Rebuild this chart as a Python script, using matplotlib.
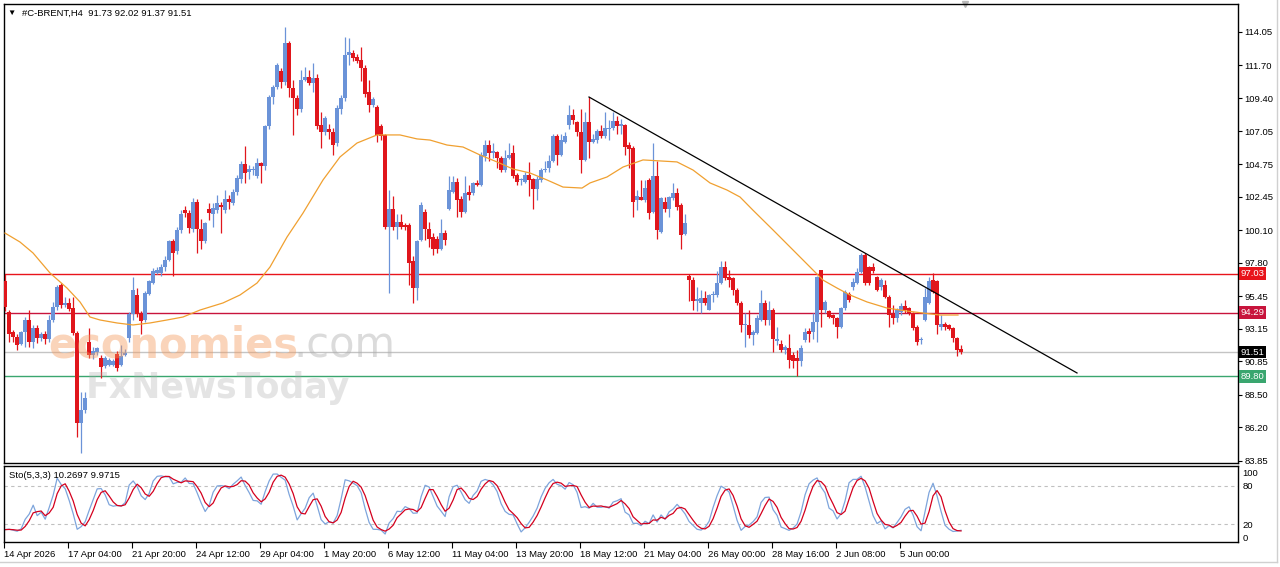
import numpy as np
import pandas as pd
import matplotlib
matplotlib.use("Agg")
import matplotlib.pyplot as plt
from matplotlib.transforms import blended_transform_factory
from matplotlib.lines import Line2D

plt.rcParams['font.family'] = ['Liberation Sans', 'DejaVu Sans']

# H4 candles (oldest first)
opens = [
    96.5, 94.3, 92.9, 92.6, 92.1, 92.95, 93.8, 92.2, 93.2, 92.5,
    92.75, 92.4, 93.8, 94.7, 96.2, 94.85, 95.0, 94.6, 92.85, 86.5,
    87.4, 92.2, 91.3, 91.5, 91.1, 90.5, 90.6, 90.6, 91.4, 90.6,
    91.3, 92.5, 94.2, 95.5, 94.2, 93.77, 95.6, 96.4, 97.1, 97.1,
    97.5, 98.0, 99.35, 98.6, 100.1, 101.5, 101.3, 100.2, 102.1, 100.2,
    99.3, 101.6, 101.25, 101.5, 101.9, 101.5, 102.3, 102.0, 102.75, 103.7,
    104.76, 104.2, 104.3, 103.9, 104.8, 104.6, 107.4, 109.5, 110.2, 111.3,
    110.5, 113.25, 110.1, 109.4, 108.6, 110.7, 110.9, 110.45, 110.8, 107.5,
    107.0, 107.2, 107.0, 106.2, 108.6, 109.4, 112.4, 112.6, 112.3, 112.1,
    111.5, 109.8, 108.9, 108.8, 107.4, 106.8, 100.35, 101.6, 100.35, 100.65,
    100.45, 100.45, 97.9, 96.0, 99.4, 101.4, 100.2, 99.6, 99.5, 98.8,
    99.9, 101.6, 102.8, 103.5, 102.3, 101.4, 102.75, 102.7, 103.4, 103.3,
    105.3, 106.1, 105.5, 105.6, 105.2, 104.3, 105.2, 105.5, 104.0, 103.6,
    103.5, 104.0, 103.7, 103.0, 103.6, 104.3, 104.45, 105.0, 106.7, 105.4,
    106.3, 107.5, 108.2, 107.7, 107.0, 105.05, 107.7, 106.3, 106.45, 107.05,
    106.75, 107.25, 107.3, 107.75, 107.45, 107.5, 106.1, 105.85, 102.2, 102.45,
    102.2, 103.6, 101.4, 103.9, 100.0, 102.1, 101.6, 102.35, 102.7, 101.9,
    99.8, 96.9, 96.6, 95.1, 95.0, 95.3, 94.5, 95.5, 95.5, 96.4,
    97.5, 96.8, 96.7, 95.9, 94.95, 93.4, 93.45, 92.7, 92.85, 93.8,
    94.95, 93.8, 94.5, 92.3, 92.1, 91.65, 91.8, 91.3, 91.1, 90.85,
    92.35, 93.0, 92.95, 93.65, 97.3, 94.5, 94.4, 94.1, 93.9, 93.3,
    94.6, 95.6, 96.1, 96.35, 97.17, 98.35, 97.5, 97.5, 96.8, 96.1,
    96.2, 95.4, 94.2, 93.9, 94.35, 94.75, 94.6, 94.25, 93.3, 92.35,
    93.8, 94.95, 96.6, 96.5, 93.3, 93.5, 93.4, 93.2, 92.5, 91.73,
]
highs = [
    97.0, 94.5, 93.1, 92.8, 93.0, 94.0, 94.5, 93.4, 93.4, 92.9,
    93.0, 94.1, 95.05, 96.2, 96.4, 95.4, 95.3, 95.4, 93.0, 88.7,
    88.7, 93.2, 91.9, 91.9, 91.3, 91.2, 91.1, 91.0, 91.6, 92.0,
    91.7, 94.3, 96.8, 96.0, 94.4, 95.8, 96.6, 97.4, 97.5, 97.7,
    98.3, 99.4, 99.5, 100.3, 101.5, 101.8, 101.5, 102.35, 102.3, 100.9,
    100.7, 102.0, 102.0, 102.6, 102.1, 102.9, 102.6, 103.0, 104.0, 105.0,
    106.0, 104.7, 104.6, 105.2, 104.9, 107.5, 109.6, 110.3, 111.85, 111.5,
    114.4, 113.4, 110.7, 109.6, 111.4, 111.6, 111.4, 111.9, 111.1, 108.4,
    108.1, 107.6, 107.3, 108.9, 109.6, 113.7, 113.6, 112.8, 112.5, 113.0,
    111.7, 110.7, 109.5, 108.9, 107.6, 106.9, 102.9, 102.5, 101.2, 101.2,
    100.6, 100.6, 98.3, 99.4, 102.1, 101.6, 100.7, 99.9, 99.7, 100.9,
    100.1, 103.9, 103.9, 103.75, 102.5, 103.9, 103.3, 103.5, 103.6, 105.6,
    106.45, 106.45, 106.2, 105.7, 105.3, 105.75, 106.2, 106.1, 104.1, 103.8,
    104.2, 104.9, 103.8, 103.9, 104.45, 105.0, 105.4, 106.9, 106.9, 106.9,
    107.0, 108.9, 108.6, 107.8, 108.6, 108.4, 109.5, 106.9, 107.2, 107.5,
    108.4, 107.85, 108.4, 108.1, 107.95, 107.6, 106.3, 106.0, 102.9, 103.6,
    103.6, 103.75, 106.2, 105.0, 102.4, 102.45, 102.5, 103.4, 103.05, 102.0,
    101.2, 97.0, 96.8, 96.1, 95.9, 95.8, 95.6, 95.8, 97.2, 97.9,
    97.9, 97.3, 96.8, 96.0, 95.1, 94.25, 94.5, 93.1, 94.1, 95.9,
    95.2, 95.1, 94.6, 93.3, 92.35, 92.0, 92.8, 91.5, 91.65, 92.0,
    93.2, 93.2, 94.25, 96.9, 97.3, 95.2, 94.5, 94.2, 94.0, 94.7,
    95.9, 95.75, 96.7, 97.4, 98.5, 98.5, 97.6, 97.76, 96.9, 96.7,
    96.6, 95.5, 94.8, 94.6, 94.95, 95.2, 94.7, 94.35, 93.4, 92.6,
    96.0, 96.8, 97.1, 96.6, 94.1, 93.65, 93.5, 93.3, 92.6, 92.02,
]
lows = [
    94.4, 92.2, 92.2, 91.65, 92.0, 91.9, 91.9, 91.8, 92.15, 92.3,
    92.1, 92.2, 93.6, 94.5, 94.6, 94.7, 94.4, 92.7, 85.5, 84.4,
    87.2, 91.1, 91.0, 91.3, 89.7, 90.4, 90.5, 90.5, 90.2, 90.5,
    91.2, 92.2, 93.8, 94.0, 92.8, 93.6, 95.5, 96.3, 97.0, 96.9,
    97.2, 97.9, 96.9, 98.4, 99.9, 101.0, 99.9, 100.0, 98.5, 98.8,
    99.2, 100.8, 100.35, 101.3, 99.9, 101.3, 101.6, 101.9, 102.6, 103.4,
    103.4, 103.7, 104.0, 103.8, 103.4, 104.3, 107.2, 109.0, 110.0, 110.1,
    110.3, 109.5, 106.8, 108.2, 108.4, 110.6, 110.3, 109.8, 107.2, 105.9,
    106.8, 106.5, 105.4, 106.0, 108.3, 109.2, 111.7, 112.0, 111.85, 110.6,
    109.5, 108.4, 108.8, 106.3, 106.45, 100.2, 95.65, 100.1, 99.5, 100.2,
    100.1, 96.2, 94.95, 95.2, 99.3, 99.4, 98.9, 98.35, 98.5, 98.7,
    99.05, 101.5, 102.7, 101.05, 101.05, 101.3, 102.2, 102.6, 103.2, 103.2,
    105.0, 105.0, 105.2, 104.45, 104.2, 104.2, 105.1, 103.8, 103.3, 103.3,
    103.4, 102.5, 101.6, 102.2, 103.5, 104.2, 104.2, 104.9, 104.7, 105.3,
    106.2, 107.2, 107.6, 106.7, 104.1, 105.0, 105.2, 106.2, 106.2, 106.6,
    106.6, 106.45, 107.15, 106.9, 106.9, 105.4, 104.45, 101.05, 101.5, 102.2,
    102.1, 100.9, 101.3, 99.5, 99.9, 101.4, 101.05, 102.2, 101.5, 98.8,
    99.75, 95.1, 94.5, 94.4, 94.25, 94.8, 94.45, 95.05, 95.4, 96.3,
    96.6, 96.1, 95.5, 94.8, 92.95, 91.9, 92.5, 92.0, 92.8, 93.7,
    93.4, 93.4, 91.5, 92.0, 91.55, 91.4, 90.4, 90.4, 89.8, 90.5,
    92.2, 92.25, 92.4, 92.25, 93.3, 94.25, 93.9, 93.5, 92.5, 93.2,
    94.5, 95.05, 95.9, 96.3, 97.1, 96.2, 96.2, 97.06, 95.8, 95.9,
    95.3, 93.3, 93.5, 93.65, 94.1, 94.25, 94.1, 93.07, 92.0, 92.1,
    93.7, 94.9, 95.65, 92.8, 93.07, 93.07, 93.07, 92.25, 91.2, 91.37,
]
closes = [
    94.7, 92.8, 92.6, 92.0, 92.9, 93.8, 92.2, 93.2, 92.5, 92.75,
    92.4, 93.8, 94.7, 96.1, 94.8, 95.0, 94.55, 92.85, 86.5, 87.4,
    88.25, 91.3, 91.6, 91.8, 90.45, 91.1, 90.95, 90.85, 90.4, 91.2,
    91.45, 94.2, 95.9, 94.2, 93.7, 95.65, 96.5, 97.2, 97.3, 97.5,
    98.0, 99.3, 98.46, 100.1, 101.2, 101.3, 100.25, 102.1, 100.2, 99.3,
    100.6, 101.3, 101.65, 101.98, 101.7, 102.3, 102.1, 102.8, 103.75, 104.76,
    104.1, 104.4, 104.4, 104.8, 104.6, 107.4, 109.5, 110.2, 111.7, 110.55,
    113.25, 110.1, 109.4, 108.6, 110.7, 110.9, 110.45, 110.8, 107.4, 107.0,
    108.0, 107.0, 106.1, 108.7, 109.4, 112.4, 112.65, 112.2, 112.0, 111.5,
    109.7, 108.9, 109.3, 106.8, 106.7, 100.35, 101.6, 100.35, 100.7, 100.35,
    100.35, 97.8, 96.0, 99.35, 101.9, 100.2, 99.5, 98.8, 98.8, 99.9,
    99.4, 102.9, 103.5, 102.2, 101.4, 102.7, 102.6, 103.4, 103.3, 105.4,
    106.1, 105.5, 105.65, 105.2, 104.3, 105.2, 105.4, 103.9, 103.5, 103.65,
    104.0, 103.6, 103.0, 103.7, 104.3, 104.4, 105.0, 106.7, 105.4, 106.45,
    106.7, 108.2, 107.85, 107.0, 105.05, 107.7, 106.3, 106.5, 107.05, 106.75,
    107.3, 107.3, 107.75, 107.4, 107.6, 105.98, 105.8, 102.1, 102.5, 102.2,
    103.05, 101.3, 103.9, 100.1, 102.35, 101.6, 102.45, 102.7, 101.75, 99.76,
    100.58, 96.6, 95.1, 95.25, 95.3, 94.95, 95.5, 95.6, 96.4, 97.5,
    96.7, 96.6, 95.9, 94.95, 93.4, 93.5, 92.7, 92.95, 93.9, 94.95,
    93.8, 94.5, 92.4, 92.4, 91.65, 91.9, 90.95, 90.85, 90.85, 91.8,
    92.95, 92.8, 93.65, 96.8, 94.5, 95.05, 94.0, 93.9, 93.3, 94.6,
    95.75, 95.2, 96.45, 97.17, 98.35, 96.35, 96.35, 97.25, 95.9, 96.6,
    95.4, 94.1, 93.9, 94.5, 94.75, 94.5, 94.25, 93.2, 92.25, 92.45,
    95.4, 96.5, 95.77, 93.4, 93.5, 93.3, 93.17, 92.5, 91.66, 91.51,
]

# moving average (orange), read at bar positions
ma_idx = [0, 3.75, 7, 11.25, 15.5, 18.75, 21.25, 23.75, 28, 32, 36.25, 40.5,
          44.5, 48.75, 54.5, 58.75, 63, 66.25, 70.5, 74.5, 79.5, 83.75, 88,
          93, 98.75, 103, 106.25, 110.5, 114.5, 118.75, 123, 127, 131.25,
          135.5, 139.5, 144.25, 146.25, 150.5, 154.5, 159.5, 163.75, 168,
          172, 176.25, 180.5, 183.75, 187, 192, 197, 201.25, 204.5, 208,
          211.25, 215.5, 220.5, 225.5, 229.5, 233.75, 238.25]
ma_val = [99.89, 99.26, 98.49, 97.08, 96.02, 95.04, 93.98, 93.77, 93.56,
          93.42, 93.56, 93.77, 93.98, 94.47, 94.97, 95.53, 96.37, 97.5,
          99.61, 101.3, 103.63, 105.25, 106.23, 106.8, 106.8, 106.52,
          106.44, 106.09, 105.95, 105.39, 104.9, 104.4, 104.12, 103.63,
          103.13, 103.06, 103.42, 103.84, 104.54, 105.04, 104.97, 104.9,
          104.33, 103.42, 102.92, 102.43, 101.5, 100.11, 98.7, 97.5, 96.58,
          96.02, 95.53, 95.04, 94.61, 94.4, 94.26, 94.12, 94.12]

trend_idx = [146, 268]
trend_val = [109.47, 90.04]

levels = [97.03, 94.29, 89.80]
level_colors = ['#e8141b', '#c8143c', '#3aa66f']
last_price = 91.51

price_ticks = [114.05, 111.70, 109.40, 107.05, 104.75, 102.45, 100.10,
               97.80, 95.45, 93.15, 90.85, 88.50, 86.20, 83.85]
date_pos = [0, 16, 32, 48, 64, 80, 96, 112, 128, 144, 160, 176, 192, 208, 224]
date_labels = ['14 Apr 2026', '17 Apr 04:00', '21 Apr 20:00', '24 Apr 12:00',
               '29 Apr 04:00', '1 May 20:00', '6 May 12:00', '11 May 04:00',
               '13 May 20:00', '18 May 12:00', '21 May 04:00', '26 May 00:00',
               '28 May 16:00', '2 Jun 08:00', '5 Jun 00:00']

BLUE = '#6b93d8'
RED = '#e0161c'
FS = 6.8

o = np.array(opens)
h = np.array(highs)
l = np.array(lows)
c = np.array(closes)
idx = np.arange(len(c))

# Sto(5,3,3)
hh = pd.Series(h).rolling(5, min_periods=1).max()
ll = pd.Series(l).rolling(5, min_periods=1).min()
num = (pd.Series(c) - ll).rolling(3, min_periods=1).sum()
den = (hh - ll).rolling(3, min_periods=1).sum()
sto_k = 100 * num / den
sto_d = sto_k.rolling(3, min_periods=1).mean()

W, H = 1280, 567
fig = plt.figure(figsize=(W / 100, H / 100), dpi=100)


def px_axes(x0, y0, x1, y1):
    return fig.add_axes([x0 / W, 1 - y1 / H, (x1 - x0) / W, (y1 - y0) / H])


ax = px_axes(4, 4, 1238, 463)
ax2 = px_axes(4, 466, 1238, 542)

# candles
col = np.where(c >= o, BLUE, RED)
ax.vlines(idx, np.minimum(l, np.minimum(o, c)), np.maximum(h, np.maximum(o, c)),
          colors=col, lw=0.9, zorder=3)
ax.bar(idx, np.maximum(np.abs(c - o), 0.07), bottom=np.minimum(o, c),
       width=0.8, color=col, lw=0, zorder=3, antialiased=False)

for lvl, lc in zip(levels, level_colors):
    ax.axhline(lvl, color=lc, lw=1, zorder=2)
ax.axhline(last_price, color='#c4c4c4', lw=1, zorder=2)
ax.plot(ma_idx, ma_val, color='#f0a030', lw=0.9, zorder=4)
ax.plot(trend_idx, trend_val, color='black', lw=0.9, zorder=4)

ax.set_xlim(-0.25, 308.25)
ax.set_ylim(83.70, 116.02)
ax.set_xticks([])
ax.yaxis.tick_right()
ax.set_yticks(price_ticks)
ax.set_yticklabels([f'{t:.2f}' for t in price_ticks])
ax.tick_params(axis='y', labelsize=FS, length=3, width=0.8, pad=1.5)

tr = blended_transform_factory(ax.transAxes, ax.transData)
for lvl, lc in zip(levels + [last_price], level_colors + ['black']):
    ax.text(1.0018, lvl, f'{lvl:.2f}', transform=tr, color='white', fontsize=FS,
            va='center', ha='left', zorder=6,
            bbox=dict(boxstyle='square,pad=0.18', fc=lc, ec='none'))

# shift marker at the top
ax.plot([240], [116.02], marker='v', color='#b8b8b8', ms=5, clip_on=False)

# stochastic
ax2.axhline(80, color='#c0c0c0', lw=0.8, ls=(0, (3, 3)))
ax2.axhline(20, color='#c0c0c0', lw=0.8, ls=(0, (3, 3)))
ax2.plot(idx, sto_k, color='#7ea5dc', lw=0.9)
ax2.plot(idx, sto_d, color='#d4001e', lw=0.9)
ax2.set_xlim(-0.25, 308.25)
ax2.set_ylim(-7.8, 110.9)
ax2.yaxis.tick_right()
ax2.set_yticks([0, 20, 80, 100])
ax2.tick_params(axis='y', labelsize=FS, length=0, pad=3)
ax2.set_xticks(np.array(date_pos) - 0.3)
ax2.set_xticklabels(date_labels, ha='left')
ax2.tick_params(axis='x', labelsize=FS, length=4, width=0.8, pad=2)

for a in (ax, ax2):
    for s in a.spines.values():
        s.set_color('black')
        s.set_linewidth(1)

fig.text(11 / W, 1 - 13 / H, '\u25bc', fontsize=6, ha='center', va='center')
fig.text(22 / W, 1 - 13 / H, '#C-BRENT,H4  91.73 92.02 91.37 91.51',
         fontsize=FS, va='center')
fig.text(9 / W, 1 - 476 / H, 'Sto(5,3,3) 10.2697 9.9715', fontsize=FS, va='center')

# watermarks
fig.text(48 / W, 1 - 346 / H, 'economies', fontsize=30, color='#f59a5c',
         alpha=0.42, va='center', family='DejaVu Sans', fontweight='bold')
fig.text(293 / W, 1 - 346 / H, '.com', fontsize=30, color='#b0b0b0',
         alpha=0.45, va='center', family='DejaVu Sans')
fig.text(86 / W, 1 - 388 / H, 'FxNewsToday', fontsize=25, color='#a8a8a8',
         alpha=0.3, va='center', family='DejaVu Sans', fontweight='bold')

# window frame
fig.add_artist(Line2D([1277 / W, 1277 / W], [1 - 562 / H, 1], color='#d0d0d0', lw=1))
fig.add_artist(Line2D([0, 1277 / W], [1 - 562 / H, 1 - 562 / H], color='#d0d0d0', lw=1))

fig.savefig('out.png', dpi=100)
